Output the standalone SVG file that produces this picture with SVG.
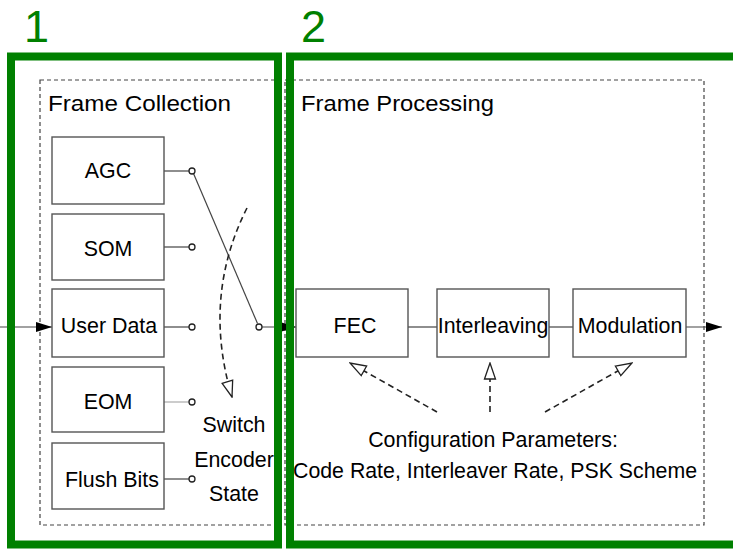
<svg xmlns="http://www.w3.org/2000/svg" width="733" height="549" viewBox="0 0 733 549">
  <style>
    .lbl { font-family: "Liberation Sans", Arial, sans-serif; font-size: 21.4px; fill: #000; }
    .title { font-family: "Liberation Sans", Arial, sans-serif; font-size: 22px; fill: #000; }
    .num { font-family: "Liberation Sans", Arial, sans-serif; font-size: 45px; fill: #008000; }
    .box { fill: #fff; stroke: #555; stroke-width: 1.4; }
    .wire { fill: none; stroke: #444; stroke-width: 1.2; }
    .dash { fill: none; stroke: #222; stroke-width: 1.6; stroke-dasharray: 6 4; }
    .stage { fill: none; stroke: #444; stroke-width: 1.2; stroke-dasharray: 4 3; }
    .term { fill: #fff; stroke: #222; stroke-width: 1.3; }
    .frame { fill: none; stroke: #008000; stroke-width: 8; }
  </style>
  <defs>
    <marker id="solid" markerWidth="16" markerHeight="12" refX="16" refY="6" orient="auto" markerUnits="userSpaceOnUse">
      <path d="M0,1 L16,6 L0,11 z" fill="#000"/>
    </marker>
    <marker id="hollow" markerWidth="18" markerHeight="14" refX="17" refY="7" orient="auto" markerUnits="userSpaceOnUse">
      <path d="M1,1.5 L17,7 L1,12.5 z" fill="#fff" stroke="#222" stroke-width="1.3"/>
    </marker>
  </defs>

  <rect width="733" height="549" fill="#fff"/>

  <!-- stage outlines -->
  <rect class="stage" x="40" y="80" width="236" height="445"/>
  <rect class="stage" x="285" y="80" width="419" height="445"/>
  <text class="title" x="48" y="111" textLength="183" lengthAdjust="spacingAndGlyphs">Frame Collection</text>
  <text class="title" x="301" y="111" textLength="193" lengthAdjust="spacingAndGlyphs">Frame Processing</text>

  <!-- connectors -->
  <g id="connectors">
    <line class="wire" x1="0" y1="327" x2="52" y2="327" marker-end="url(#solid)"/>
    <line class="wire" x1="164" y1="171" x2="189" y2="171"/>
    <line class="wire" x1="164" y1="247" x2="189" y2="247"/>
    <line class="wire" x1="164" y1="327" x2="189" y2="327"/>
    <line x1="164" y1="402" x2="189" y2="402" stroke="#aaa" stroke-width="1.2"/>
    <line class="wire" x1="164" y1="479" x2="189" y2="479"/>
    <!-- switch arm -->
    <line class="wire" x1="193.5" y1="173.5" x2="257.5" y2="323.5"/>
    <line class="wire" x1="262" y1="327" x2="296" y2="327" marker-end="url(#solid)"/>
    <circle class="term" cx="192" cy="171" r="3"/>
    <circle class="term" cx="192" cy="247" r="3"/>
    <circle class="term" cx="192" cy="327" r="3"/>
    <circle class="term" cx="192" cy="402" r="3"/>
    <circle class="term" cx="192" cy="479" r="3"/>
    <circle class="term" cx="259" cy="327" r="3"/>
    <!-- switch state change -->
    <path class="dash" d="M247,208 Q202,297 232,397" marker-end="url(#hollow)"/>
    <!-- processing chain -->
    <line class="wire" x1="408" y1="327" x2="437" y2="327"/>
    <line class="wire" x1="549" y1="327" x2="573" y2="327"/>
    <line class="wire" x1="686" y1="327" x2="722" y2="327" marker-end="url(#solid)"/>
    <!-- configuration -->
    <line class="dash" x1="437" y1="412" x2="350" y2="363" marker-end="url(#hollow)"/>
    <line class="dash" x1="490" y1="412" x2="490" y2="363" marker-end="url(#hollow)"/>
    <line class="dash" x1="545" y1="412" x2="632" y2="363" marker-end="url(#hollow)"/>
  </g>

  <g id="agc">
    <rect class="box" x="52" y="137" width="112" height="67"/>
    <text class="lbl" x="108" y="178" text-anchor="middle">AGC</text>
  </g>
  <g id="som">
    <rect class="box" x="52" y="214" width="112" height="66"/>
    <text class="lbl" x="108" y="256" text-anchor="middle">SOM</text>
  </g>
  <g id="user-data">
    <rect class="box" x="52" y="289" width="112" height="68"/>
    <text class="lbl" x="109" y="333" text-anchor="middle">User Data</text>
  </g>
  <g id="eom">
    <rect class="box" x="52" y="367" width="112" height="65"/>
    <text class="lbl" x="108" y="409" text-anchor="middle">EOM</text>
  </g>
  <g id="flush-bits">
    <rect class="box" x="52" y="443" width="112" height="66"/>
    <text class="lbl" x="112" y="487" text-anchor="middle">Flush Bits</text>
  </g>
  <g id="switch-label">
    <text class="lbl" x="234" y="432" text-anchor="middle">Switch</text>
    <text class="lbl" x="234" y="467" text-anchor="middle">Encoder</text>
    <text class="lbl" x="234" y="501" text-anchor="middle">State</text>
  </g>

  <g id="fec">
    <rect class="box" x="296" y="289" width="112" height="68"/>
    <text class="lbl" x="355" y="333" text-anchor="middle">FEC</text>
  </g>
  <g id="interleaving">
    <rect class="box" x="437" y="289" width="112" height="68"/>
    <text class="lbl" x="493" y="333" text-anchor="middle">Interleaving</text>
  </g>
  <g id="modulation">
    <rect class="box" x="573" y="289" width="113" height="68"/>
    <text class="lbl" x="630" y="333" text-anchor="middle">Modulation</text>
  </g>
  <g id="config-label">
    <text class="lbl" x="493" y="447" text-anchor="middle">Configuration Parameters:</text>
    <text class="lbl" x="495" y="478" text-anchor="middle" textLength="404" lengthAdjust="spacingAndGlyphs">Code Rate, Interleaver Rate, PSK Scheme</text>
  </g>

  <!-- numbered stage frames -->
  <g id="stage-1">
    <rect class="frame" x="11" y="56.5" width="267" height="488"/>
    <text class="num" x="24" y="42">1</text>
  </g>
  <g id="stage-2">
    <rect class="frame" x="290" y="56.5" width="460" height="488"/>
    <text class="num" x="301" y="42">2</text>
  </g>
</svg>
